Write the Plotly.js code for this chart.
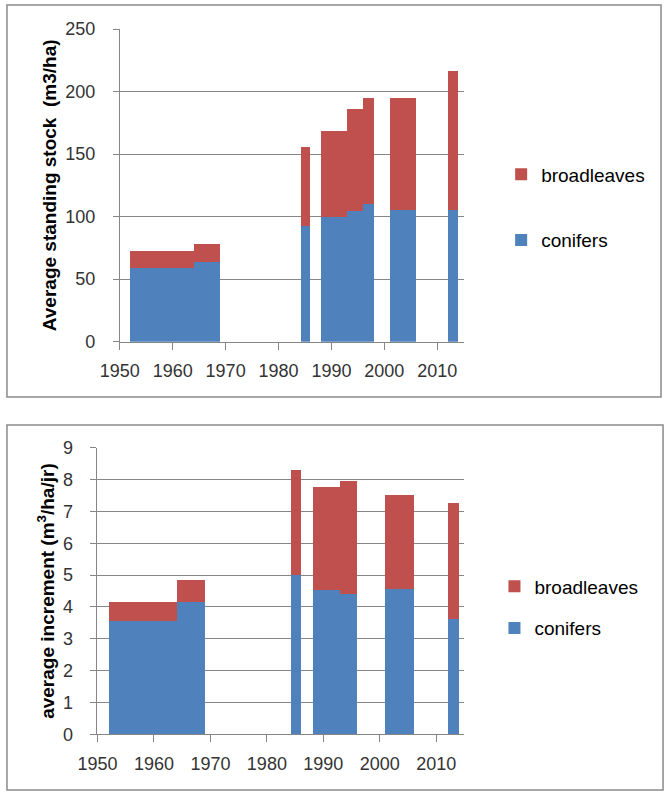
<!DOCTYPE html>
<html>
<head>
<meta charset="utf-8">
<script src="https://cdn.plot.ly/plotly-3.0.1.min.js"></script>
<style>html,body{margin:0;padding:0;background:#fff;}#chart{width:670px;height:799px;}</style>
</head>
<body>
<div id="chart"></div>
<script>
// ---- Data: average standing stock (m3/ha) ----
var stockStart = [1952, 1964, 1984.2, 1988, 1993, 1996, 2001, 2012];
var stockEnd   = [1964, 1969, 1985.9, 1993, 1996, 1998, 2006, 2014];
var stockConifers    = [59, 63.5, 92.8, 100, 104.8, 110, 105.6, 105.6];
var stockBroadleaves = [13.9, 14.8, 63.2, 68.8, 81.4, 84.7, 89.1, 111];

// ---- Data: average increment (m3/ha/jr) ----
var incStart = [1952, 1964, 1984.2, 1988.2, 1993, 2001, 2012];
var incEnd   = [1964, 1969, 1986, 1993, 1996, 2006, 2014];
var incConifers    = [3.56, 4.16, 4.99, 4.52, 4.40, 4.56, 3.62];
var incBroadleaves = [0.60, 0.69, 3.30, 3.26, 3.57, 2.97, 3.65];

var seriesNames = ['conifers', 'broadleaves'];
var xTickVals = [1950, 1960, 1970, 1980, 1990, 2000, 2010];

var BLUE = '#4F81BD', RED = '#C0504D', GRID = '#868686';
var FONT = 'Liberation Sans, Arial, sans-serif';

function centers(s, e) { return s.map(function (v, i) { return (v + e[i]) / 2; }); }
function widths(s, e) { return s.map(function (v, i) { return e[i] - v; }); }

function barTrace(name, s, e, y, color, xa, ya, legend, rank) {
  return {
    type: 'bar', name: name, x: centers(s, e), y: y, width: widths(s, e),
    marker: {color: color, line: {width: 0}},
    xaxis: xa, yaxis: ya, legend: legend, legendgroup: legend + name,
    legendrank: rank, hoverinfo: 'skip'
  };
}

var data = [
  barTrace(seriesNames[0], stockStart, stockEnd, stockConifers, BLUE, 'x', 'y', 'legend', 2),
  barTrace(seriesNames[1], stockStart, stockEnd, stockBroadleaves, RED, 'x', 'y', 'legend', 1),
  barTrace(seriesNames[0], incStart, incEnd, incConifers, BLUE, 'x2', 'y2', 'legend2', 2),
  barTrace(seriesNames[1], incStart, incEnd, incBroadleaves, RED, 'x2', 'y2', 'legend2', 1)
];

function xAxis(domain, anchor) {
  return {
    domain: domain, anchor: anchor, range: [1950, 2015], tickvals: xTickVals,
    showgrid: false, zeroline: false, showline: true, linecolor: GRID, linewidth: 1,
    ticks: 'outside', ticklen: 7, tickcolor: GRID, tickwidth: 1,
    ticklabelstandoff: 6,
    tickfont: {family: FONT, size: 18, color: '#333333'}, fixedrange: true
  };
}
function yAxis(domain, anchor, range, dtick, title) {
  return {
    domain: domain, anchor: anchor, range: range, dtick: dtick,
    showgrid: true, gridcolor: GRID, gridwidth: 1, zeroline: false,
    showline: true, linecolor: GRID, linewidth: 1,
    ticks: 'outside', ticklen: 6, tickcolor: GRID, tickwidth: 1,
    ticklabelstandoff: 14,
    tickfont: {family: FONT, size: 18, color: '#333333'},
    title: {text: title, standoff: 3, font: {family: FONT, size: 19, color: '#000000', weight: 'bold'}},
    automargin: false, fixedrange: true
  };
}

var legendFont = {family: FONT, size: 19, color: '#000000'};

var layout = {
  width: 670, height: 799,
  margin: {l: 0, r: 0, t: 0, b: 0},
  paper_bgcolor: '#ffffff', plot_bgcolor: '#ffffff',
  barmode: 'stack', bargap: 0,
  font: {family: FONT},
  xaxis: xAxis([0.17881, 0.69209], 'y'),
  yaxis: yAxis([0.57234, 0.96370], 'x', [0, 250], 50, 'Average standing stock  (m3/ha)'),
  xaxis2: xAxis([0.14552, 0.69328], 'y2'),
  yaxis2: yAxis([0.08098, 0.43955], 'x2', [0, 9], 1, 'average increment (m<sup>3</sup>/ha/jr)'),
  legend: {
    x: 0.748, y: 0.7403, xanchor: 'left', yanchor: 'middle',
    traceorder: 'grouped', tracegroupgap: 38,
    font: legendFont, bgcolor: 'rgba(0,0,0,0)', borderwidth: 0
  },
  legend2: {
    x: 0.738, y: 0.2397, xanchor: 'left', yanchor: 'middle',
    traceorder: 'grouped', tracegroupgap: 14,
    font: legendFont, bgcolor: 'rgba(0,0,0,0)', borderwidth: 0
  },
  shapes: [
    {type: 'rect', xref: 'paper', yref: 'paper', x0: 0.0104, x1: 0.9866, y0: 0.5031, y1: 0.9937,
     line: {color: '#8a8a8a', width: 1.5}, fillcolor: 'rgba(0,0,0,0)', layer: 'below'},
    {type: 'rect', xref: 'paper', yref: 'paper', x0: 0.0104, x1: 0.9896, y0: 0.0113, y1: 0.4681,
     line: {color: '#8a8a8a', width: 1.5}, fillcolor: 'rgba(0,0,0,0)', layer: 'below'}
  ]
};

Plotly.newPlot('chart', data, layout, {staticPlot: true, displayModeBar: false});
</script>
</body>
</html>
